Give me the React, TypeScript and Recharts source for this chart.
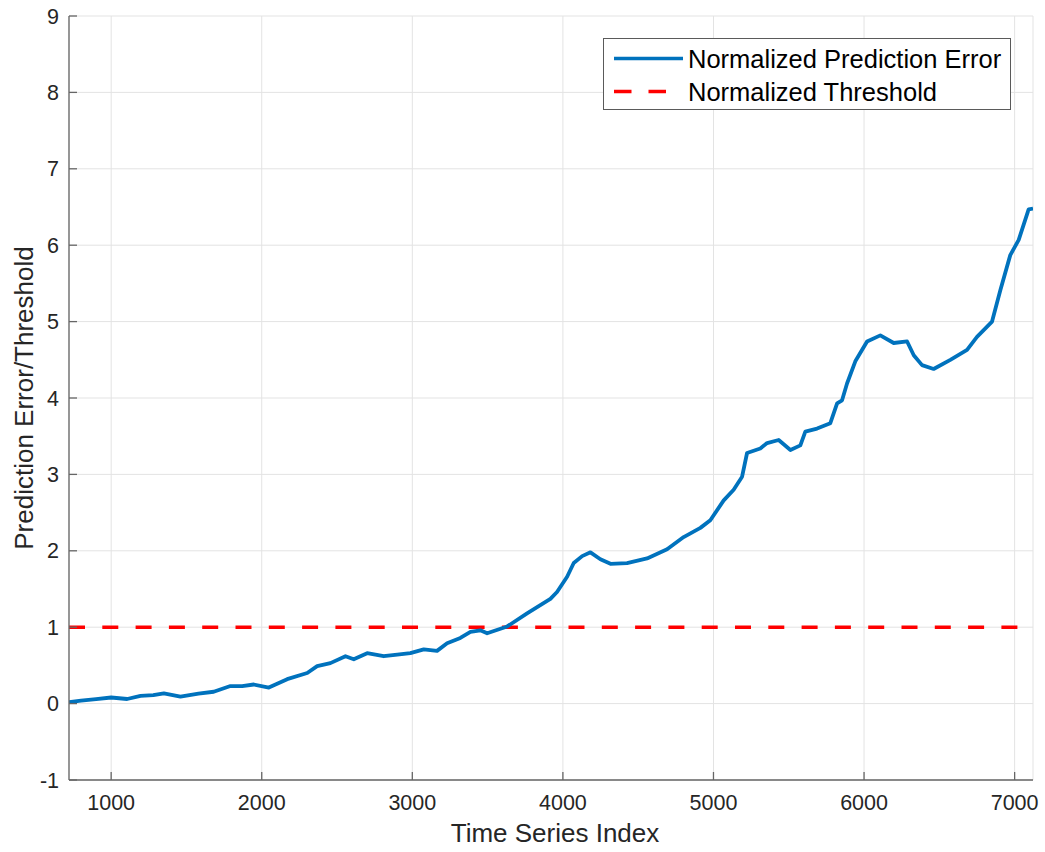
import React from 'react';
import { LineChart, Line, XAxis, YAxis, CartesianGrid } from 'recharts';

// ---- data ----
const timeIndex = [
  720, 800, 900, 1000, 1106, 1195, 1280, 1350, 1460, 1580, 1681, 1792, 1870, 1947, 2047,
  2169, 2302, 2368, 2456, 2556, 2611, 2700, 2810, 2900, 2987, 3076, 3164, 3231, 3319, 3386,
  3452, 3497, 3630, 3762, 3917, 3961, 4028, 4072, 4128, 4183, 4249, 4316, 4426, 4559, 4692,
  4802, 4913, 4979, 5068, 5134, 5190, 5223, 5311, 5356, 5433, 5511, 5577, 5610, 5688, 5776,
  5821, 5854, 5887, 5942, 6020, 6108, 6197, 6286, 6330, 6385, 6462, 6573, 6684, 6750, 6850,
  6905, 6971, 7027, 7093, 7122,
];
const normalizedError = [
  0.02, 0.04, 0.06, 0.08, 0.06, 0.10, 0.11, 0.135, 0.09, 0.13, 0.155, 0.23, 0.23, 0.25, 0.21,
  0.32, 0.40, 0.49, 0.53, 0.62, 0.58, 0.66, 0.62, 0.64, 0.66, 0.71, 0.69, 0.79, 0.86, 0.94,
  0.96, 0.92, 1.01, 1.18, 1.37, 1.46, 1.66, 1.84, 1.93, 1.98, 1.89, 1.83, 1.84, 1.90, 2.02,
  2.18, 2.30, 2.40, 2.66, 2.80, 2.97, 3.28, 3.34, 3.41, 3.45, 3.32, 3.38, 3.56, 3.60, 3.67,
  3.93, 3.97, 4.19, 4.48, 4.74, 4.82, 4.72, 4.74, 4.56, 4.43, 4.38, 4.50, 4.63, 4.80, 5.00,
  5.41, 5.87, 6.07, 6.47, 6.48,
];
const thresholdIndex = [720, 7122];
const thresholdValue = [1, 1];

const xDomain = [720, 7122];
const yDomain = [-1, 9];
const xTicks = [1000, 2000, 3000, 4000, 5000, 6000, 7000];
const yTicks = [-1, 0, 1, 2, 3, 4, 5, 6, 7, 8, 9];

const seriesNames = ['Normalized Prediction Error', 'Normalized Threshold'];
const xLabel = 'Time Series Index';
const yLabel = 'Prediction Error/Threshold';

const errorData = timeIndex.map((t, i) => ({ idx: t, err: normalizedError[i] }));
const thresholdData = thresholdIndex.map((t, i) => ({ idx: t, thr: thresholdValue[i] }));

// ---- styles ----
const FONT = '"Liberation Sans", Arial, Helvetica, sans-serif';
const AXIS_COLOR = '#666666';
const TEXT_COLOR = '#262626';
const BLUE = '#0072BD';
const RED = '#FF0000';
const DASH = '16 17.3';

const noTick = () => null;

export default function App() {
  return (
    <div style={{ position: 'absolute', left: 0, top: 0, width: 1045, height: 852, background: '#fff', fontFamily: FONT }}>
      <LineChart
        width={1045}
        height={852}
        margin={{ top: 16, right: 12, bottom: 0, left: 0 }}
        style={{ fontFamily: FONT }}
      >
        <CartesianGrid stroke="#e3e3e3" strokeWidth={1} />
        <XAxis
          xAxisId={0}
          dataKey="idx"
          type="number"
          domain={xDomain}
          ticks={xTicks}
          allowDataOverflow
          height={72}
          stroke={AXIS_COLOR}
          strokeWidth={1.3}
          tickSize={-8}
          tickMargin={23}
          tick={{ fill: TEXT_COLOR, fontSize: 21.5, fontFamily: FONT }}
          label={{
            content: (p: any) => {
              const vb = p.viewBox;
              return (
                <text x={vb.x + vb.width / 2 + 4} y={833} textAnchor="middle" dominantBaseline="central" fill={TEXT_COLOR} fontSize={26} fontFamily={FONT}>
                  {xLabel}
                </text>
              );
            },
          }}
        />
        <XAxis
          xAxisId="top"
          orientation="top"
          dataKey="idx"
          type="number"
          domain={xDomain}
          ticks={xTicks}
          allowDataOverflow
          height={0}
          stroke={AXIS_COLOR}
          strokeWidth={1.3}
          tickSize={-8}
          tick={noTick}
        />
        <YAxis
          yAxisId={0}
          type="number"
          domain={yDomain}
          ticks={yTicks}
          allowDataOverflow
          width={69}
          stroke={AXIS_COLOR}
          strokeWidth={1.3}
          tickSize={-8}
          tickMargin={18}
          tick={{ fill: TEXT_COLOR, fontSize: 21.5, fontFamily: FONT }}
          label={{
            content: (p: any) => {
              const vb = p.viewBox;
              const cy = vb.y + vb.height / 2;
              return (
                <text x={24} y={cy} transform={`rotate(-90, 24, ${cy})`} textAnchor="middle" dominantBaseline="central" fill={TEXT_COLOR} fontSize={26} fontFamily={FONT}>
                  {yLabel}
                </text>
              );
            },
          }}
        />
        <YAxis
          yAxisId="right"
          orientation="right"
          type="number"
          domain={yDomain}
          ticks={yTicks}
          allowDataOverflow
          width={0}
          stroke={AXIS_COLOR}
          strokeWidth={1.3}
          tickSize={-8}
          tick={noTick}
        />
        <Line
          data={thresholdData}
          dataKey="thr"
          xAxisId={0}
          yAxisId={0}
          type="linear"
          stroke={RED}
          strokeWidth={3.5}
          strokeDasharray={DASH}
          dot={false}
          activeDot={false}
          isAnimationActive={false}
        />
        <Line
          data={errorData}
          dataKey="err"
          xAxisId={0}
          yAxisId={0}
          type="linear"
          stroke={BLUE}
          strokeWidth={3.8}
          strokeLinejoin="round"
          dot={false}
          activeDot={false}
          isAnimationActive={false}
        />
      </LineChart>
      <div
        style={{
          position: 'absolute',
          left: 603,
          top: 38,
          width: 408,
          height: 72,
          border: '1px solid #5a5a5a',
          background: '#fff',
          boxSizing: 'border-box',
        }}
      >
        <svg width={406} height={70} style={{ position: 'absolute', left: 0, top: 0 }}>
          <line x1={10} x2={79} y1={19.5} y2={19.5} stroke={BLUE} strokeWidth={3.5} />
          <line x1={10} x2={79} y1={52.5} y2={52.5} stroke={RED} strokeWidth={3.5} strokeDasharray="17.5 17" />
          <text x={84} y={19.5} dominantBaseline="central" fontSize={25.5} fontFamily={FONT} fill="#000">
            {seriesNames[0]}
          </text>
          <text x={84} y={52.5} dominantBaseline="central" fontSize={25.5} fontFamily={FONT} fill="#000">
            {seriesNames[1]}
          </text>
        </svg>
      </div>
    </div>
  );
}
